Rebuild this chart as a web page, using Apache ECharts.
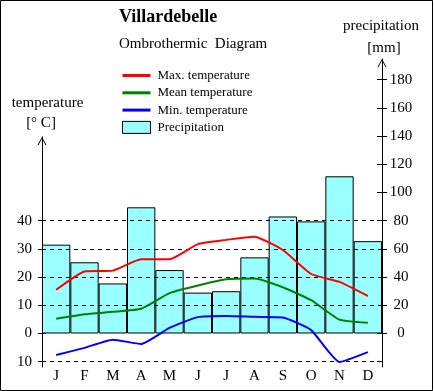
<!DOCTYPE html>
<html><head><meta charset="utf-8">
<script src="https://cdn.jsdelivr.net/npm/echarts@6/dist/echarts.min.js"></script>
<style>html,body{margin:0;padding:0;background:#fff}#c{width:434px;height:391px}</style>
</head><body><div id="c"></div>
<script>
// ---- data ----
const months = ['J','F','M','A','M','J','J','A','S','O','N','D'];
const maxTemp = [15.5, 22, 22.3, 26.3, 26.3, 31.7, 33.2, 34.3, 29.6, 21.1, 18.3, 13.3];
const meanTemp = [5.2, 6.8, 7.7, 8.8, 14.3, 17, 19.2, 19.5, 16.4, 11.8, 4.9, 3.8];
const minTemp = [-7.6, -5.1, -2.2, -3.7, 2, 5.8, 6.2, 5.9, 5.7, 1.2, -10.1, -6.6];
const precipitation = [63, 50.5, 35.5, 89.5, 45, 29, 30, 54, 83, 79.5, 111.5, 65.5];
const tempTicks = [-10, 0, 10, 20, 30, 40];
const tempGridValues = [-10, 10, 20, 30, 40];
const precipTicks = [0, 20, 40, 60, 80, 100, 120, 140, 160, 180];
const precipInnerTicks = [-20, 0, 20, 40, 60, 80, 100, 120, 140, 160, 180];

const FONT = '"Liberation Serif", "Times New Roman", serif';
const ARROW = 'path://M0,8 L4.5,0 L9,8 L8,8 L4.5,1.8 L1,8 Z';
const LINE_ICON = 'path://M0,0 L28,0 L28,3 L0,3 Z';
const T_MIN = -11.879, T_MAX = 69.68;
const P_MIN = -23.759, P_MAX = 194.681;

const chart = echarts.init(document.getElementById('c'), null, {renderer: 'canvas'});
chart.setOption({
  animation: false,
  backgroundColor: '#fff',
  title: {
    text: 'Villardebelle', subtext: 'Ombrothermic  Diagram',
    left: 119, top: 8, padding: 0, itemGap: 11,
    textStyle: {fontFamily: FONT, fontSize: 18, fontWeight: 'bold', color: '#000'},
    subtextStyle: {fontFamily: FONT, fontSize: 15, color: '#000'}
  },
  legend: {
    orient: 'vertical', left: 122, top: 69, padding: 0,
    itemWidth: 28, itemHeight: 12, itemGap: 4.3, selectedMode: false,
    textStyle: {fontFamily: FONT, fontSize: 13, color: '#000', padding: [0, 0, 0, 2], lineHeight: 13},
    data: [
      {name: 'Max. temperature', icon: LINE_ICON},
      {name: 'Mean temperature', icon: LINE_ICON},
      {name: 'Min. temperature', icon: LINE_ICON},
      {name: 'Precipitation', icon: 'rect', itemStyle: {borderColor: '#000', borderWidth: 1}}
    ]
  },
  grid: [
    {left: 42, right: 52, top: 137, bottom: 24},
    {left: 42, right: 52, top: 59, bottom: 24}
  ],
  xAxis: [
    {gridIndex: 0, type: 'category', data: months, boundaryGap: true,
     axisLine: {show: false, onZero: false}, axisTick: {show: false}, splitLine: {show: false},
     axisLabel: {margin: 2, fontFamily: FONT, fontSize: 15, color: '#000', interval: 0}},
    {gridIndex: 1, type: 'category', data: months, boundaryGap: true, show: false,
     axisLine: {show: false, onZero: false}}
  ],
  yAxis: [
    {gridIndex: 0, type: 'value', position: 'left', min: T_MIN, max: T_MAX,
     axisLine: {show: true, onZero: false, lineStyle: {color: '#000', width: 1},
                symbol: ['none', ARROW], symbolSize: [9, 8], symbolOffset: [0, -4]},
     axisTick: {show: true, length: 4, customValues: tempTicks, lineStyle: {color: '#000'}},
     axisLabel: {customValues: tempTicks, margin: 10, fontFamily: FONT, fontSize: 15, color: '#000',
                 formatter: v => String(Math.abs(v))},
     splitLine: {show: false}},
    {gridIndex: 0, type: 'value', position: 'left', min: T_MIN, max: T_MAX,
     axisLine: {show: false, onZero: false},
     axisTick: {show: true, inside: true, length: 4, customValues: tempTicks, lineStyle: {color: '#000'}},
     axisLabel: {show: false}, splitLine: {show: false}},
    {gridIndex: 1, type: 'value', position: 'right', min: P_MIN, max: P_MAX,
     axisLine: {show: true, onZero: false, lineStyle: {color: '#000', width: 1},
                symbol: ['none', ARROW], symbolSize: [9, 8], symbolOffset: [0, -4]},
     axisTick: {show: true, length: 5, customValues: precipTicks, lineStyle: {color: '#000'}},
     axisLabel: {customValues: precipTicks, margin: 19, align: 'center', fontFamily: FONT, fontSize: 15, color: '#000'},
     splitLine: {show: false}},
    {gridIndex: 1, type: 'value', position: 'right', min: P_MIN, max: P_MAX,
     axisLine: {show: false, onZero: false},
     axisTick: {show: true, inside: true, length: 5, customValues: precipInnerTicks, lineStyle: {color: '#000'}},
     axisLabel: {show: false}, splitLine: {show: false}}
  ],
  series: [
    {name: 'Precipitation', type: 'bar', xAxisIndex: 1, yAxisIndex: 2, data: precipitation,
     barWidth: '100%', barGap: '0%', barCategoryGap: '0%', z: 1,
     itemStyle: {color: '#99ffff', borderColor: '#000', borderWidth: 1}},
    {name: 'grid', type: 'line', xAxisIndex: 0, yAxisIndex: 0, data: [], z: 4,
     markLine: {silent: true, symbol: ['none', 'none'], label: {show: false},
       lineStyle: {color: '#000', width: 1, type: [4, 4]},
       data: tempGridValues.map(v => ({yAxis: v}))}},
    {name: 'Max. temperature', type: 'line', xAxisIndex: 0, yAxisIndex: 0, data: maxTemp,
     symbol: 'none', smooth: 0.15, z: 6, lineStyle: {color: '#ff0000', width: 2}, itemStyle: {color: '#ff0000'}},
    {name: 'Mean temperature', type: 'line', xAxisIndex: 0, yAxisIndex: 0, data: meanTemp,
     symbol: 'none', smooth: 0.15, z: 6, lineStyle: {color: '#008000', width: 2}, itemStyle: {color: '#008000'}},
    {name: 'Min. temperature', type: 'line', xAxisIndex: 0, yAxisIndex: 0, data: minTemp,
     symbol: 'none', smooth: 0.15, z: 6, lineStyle: {color: '#0000ff', width: 2}, itemStyle: {color: '#0000ff'}}
  ],
  graphic: [
    {type: 'rect', shape: {x: 0.5, y: 0.5, width: 432, height: 390}, style: {fill: 'none', stroke: '#000', lineWidth: 1}, silent: true, z: 100},
    {type: 'text', x: 47.5, y: 103, style: {text: 'temperature', font: '15px ' + FONT, fill: '#000', align: 'center', verticalAlign: 'middle'}},
    {type: 'text', x: 41, y: 123, style: {text: '[° C]', font: '15px ' + FONT, fill: '#000', align: 'center', verticalAlign: 'middle'}},
    {type: 'text', x: 381, y: 26, style: {text: 'precipitation', font: '15px ' + FONT, fill: '#000', align: 'center', verticalAlign: 'middle'}},
    {type: 'text', x: 384, y: 48, style: {text: '[mm]', font: '15px ' + FONT, fill: '#000', align: 'center', verticalAlign: 'middle'}}
  ]
});
</script></body></html>
